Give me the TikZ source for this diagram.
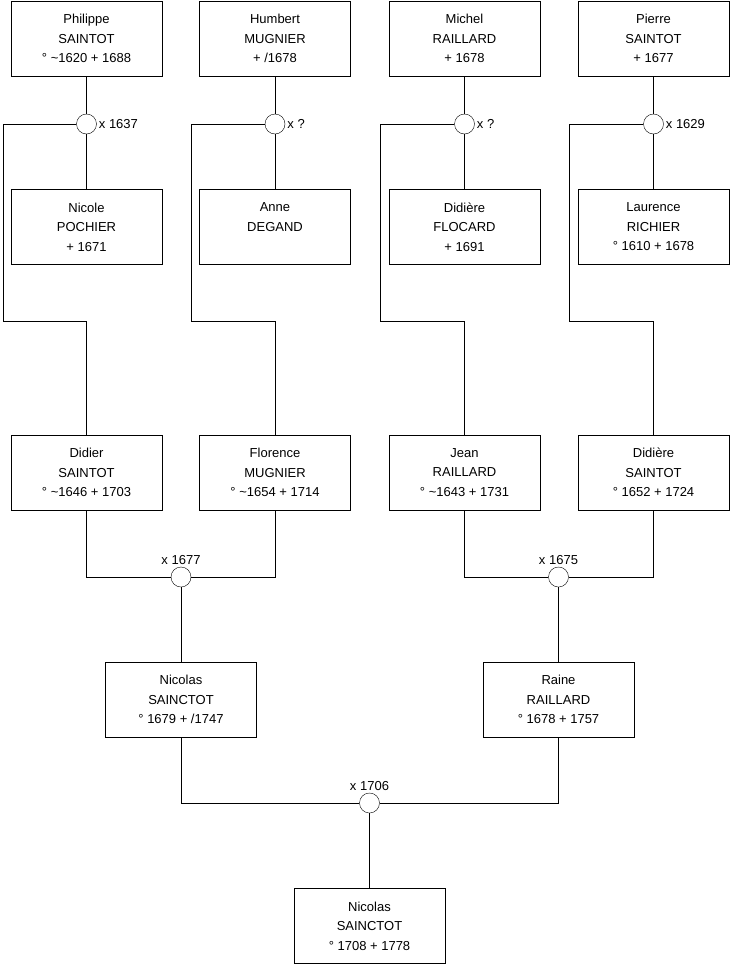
\documentclass[tikz,border=0pt]{standalone}
\usepackage{fontspec}
\setmainfont{Liberation Sans}
\usetikzlibrary{positioning}

\begin{document}
\begin{tikzpicture}[x=1pt, y=-1pt,
  person/.style={draw, rectangle, minimum width=151pt, minimum height=75pt, inner sep=0pt, align=center, font=\fontsize{13}{19.5}\selectfont},
  union/.style={draw, circle, minimum size=20pt, inner sep=0pt, fill=white},
  link/.style={line width=0.8pt},
  every label/.style={font=\fontsize{13}{15}\selectfont, inner sep=2pt}]
  \useasboundingbox (0,0) rectangle (740,975);
  \node[person] (p1) at (86.5,38.5)  {Philippe\\SAINTOT\\° \textasciitilde1620 + 1688};
  \node[person] (p2) at (275,38.5)   {Humbert\\MUGNIER\\+ /1678};
  \node[person] (p3) at (464.5,38.5) {Michel\\RAILLARD\\+ 1678};
  \node[person] (p4) at (653.5,38.5) {Pierre\\SAINTOT\\+ 1677};
  \node[person] (q1) at (86.5,227)  {Nicole\\POCHIER\\+ 1671};
  \node[person] (q2) at (275,227)   {Anne\\DEGAND\\\phantom{+ 1671}};
  \node[person] (q3) at (464.5,227) {Didière\\FLOCARD\\+ 1691};
  \node[person] (q4) at (653.5,227) {Laurence\\RICHIER\\° 1610 + 1678};
  \node[person] (c1) at (86.5,472.5)  {Didier\\SAINTOT\\° \textasciitilde1646 + 1703};
  \node[person] (c2) at (275,472.5)   {Florence\\MUGNIER\\° \textasciitilde1654 + 1714};
  \node[person] (c3) at (464.5,472.5) {Jean\\RAILLARD\\° \textasciitilde1643 + 1731};
  \node[person] (c4) at (653.5,472.5) {Didière\\SAINTOT\\° 1652 + 1724};
  \node[person] (g1) at (181,699.5)   {Nicolas\\SAINCTOT\\° 1679 + /1747};
  \node[person] (g2) at (558.5,699.5) {Raine\\RAILLARD\\° 1678 + 1757};
  \node[person] (n)  at (369.5,926)   {Nicolas\\SAINCTOT\\° 1708 + 1778};
  \node[union, label=right:{x 1637}] (m1) at (86.5,124) {};
  \node[union, label=right:{x ?}]    (m2) at (275,124) {};
  \node[union, label=right:{x ?}]    (m3) at (464.5,124) {};
  \node[union, label=right:{x 1629}] (m4) at (653.5,124) {};
  \node[union, label=above:{x 1677}] (m5) at (181,577) {};
  \node[union, label=above:{x 1675}] (m6) at (558.5,577) {};
  \node[union, label=above:{x 1706}] (m7) at (369.5,803) {};
  \coordinate (k1) at (3,321);
  \coordinate (k2) at (191,321);
  \coordinate (k3) at (380,321);
  \coordinate (k4) at (569,321);
  \draw[link] (p1) -- (m1);
  \draw[link] (p2) -- (m2);
  \draw[link] (p3) -- (m3);
  \draw[link] (p4) -- (m4);
  \draw[link] (m1) -- (q1);
  \draw[link] (m2) -- (q2);
  \draw[link] (m3) -- (q3);
  \draw[link] (m4) -- (q4);
  \draw[link] (m1.west) -| (k1) -| (c1.north);
  \draw[link] (m2.west) -| (k2) -| (c2.north);
  \draw[link] (m3.west) -| (k3) -| (c3.north);
  \draw[link] (m4.west) -| (k4) -| (c4.north);
  \draw[link] (c1) |- (m5);
  \draw[link] (c2) |- (m5);
  \draw[link] (c3) |- (m6);
  \draw[link] (c4) |- (m6);
  \draw[link] (m5) -- (g1);
  \draw[link] (m6) -- (g2);
  \draw[link] (g1) |- (m7);
  \draw[link] (g2) |- (m7);
  \draw[link] (m7) -- (n);
\end{tikzpicture}
\end{document}
